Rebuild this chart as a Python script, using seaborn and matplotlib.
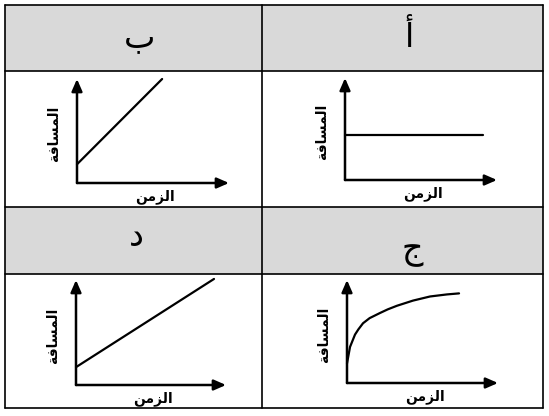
import matplotlib
matplotlib.use("Agg")
import matplotlib.pyplot as plt
import seaborn as sns
from matplotlib.patches import Rectangle

# ---------------------------------------------------------------------------
# data (arbitrary units 0..10 per panel)
# ---------------------------------------------------------------------------
letters = ["أ", "ب", "ج", "د"]
x_label = "الزمن"
y_label = "المسافة"

time_a = [0, 9.1]
dist_a = [4.4, 4.4]

time_b = [0, 5.6]
dist_b = [1.8, 10.0]

time_c = [0, 0.2, 0.53, 0.75, 1.06, 1.5, 2.19, 2.7, 3.31, 4.37, 5.5, 6.62, 7.42]
dist_c = [1.9, 3.5, 4.7, 5.2, 5.8, 6.3, 6.8, 7.15, 7.5, 8.0, 8.4, 8.6, 8.7]

time_d = [0, 9.2]
dist_d = [1.7, 10.1]

# ---------------------------------------------------------------------------
# tiny arabic shaper (matplotlib has no complex text layout)
# forms: isolated, final, initial, medial
# ---------------------------------------------------------------------------
FORMS = {
    "ا": ("\uFE8D", "\uFE8E", None, None),
    "ل": ("\uFEDD", "\uFEDE", "\uFEDF", "\uFEE0"),
    "ز": ("\uFEAF", "\uFEB0", None, None),
    "م": ("\uFEE1", "\uFEE2", "\uFEE3", "\uFEE4"),
    "ن": ("\uFEE5", "\uFEE6", "\uFEE7", "\uFEE8"),
    "س": ("\uFEB1", "\uFEB2", "\uFEB3", "\uFEB4"),
    "ف": ("\uFED1", "\uFED2", "\uFED3", "\uFED4"),
    "ة": ("\uFE93", "\uFE94", None, None),
}


def shape(word):
    out = []
    for i, ch in enumerate(word):
        iso, fin, ini, med = FORMS[ch]
        prev_joins = i > 0 and FORMS[word[i - 1]][2] is not None
        joins_next = i < len(word) - 1 and ini is not None
        if prev_joins and joins_next:
            out.append(med)
        elif prev_joins:
            out.append(fin)
        elif joins_next:
            out.append(ini)
        else:
            out.append(iso)
    return "".join(reversed(out))


sns.set_style("white")
plt.rcParams["font.family"] = ["DejaVu Sans"]

W, H = 549, 416
fig = plt.figure(figsize=(W / 100, H / 100), dpi=100)

# background axes in pixel coords for the table
bg = fig.add_axes([0, 0, 1, 1])
bg.set_xlim(0, W)
bg.set_ylim(H, 0)
bg.axis("off")

left, mid, right = 5, 262, 543
rows = [5, 71, 207, 274, 408]
gray = "#d9d9d9"
for top, bot in [(rows[0], rows[1]), (rows[2], rows[3])]:
    bg.add_patch(Rectangle((left, top), right - left, bot - top, color=gray, lw=0))
for y in rows:
    bg.plot([left, right], [y, y], color="black", lw=1.2)
for x in [left, mid, right]:
    bg.plot([x, x], [rows[0], rows[-1]], color="black", lw=1.2)

# header letters (right-to-left: right column first)
head_pos = [(409, 47), (140, 47), (412, 258), (136, 246)]
for letter, (hx, hy) in zip(letters, head_pos):
    bg.text(hx, hy, letter, fontsize=24, ha="center", va="baseline", color="black")

# panels: origin pixel and arrow tip pixel
panels = [
    ((345, 180), (497, 78), time_a, dist_a),
    ((77, 183), (229, 79), time_b, dist_b),
    ((347, 383), (498, 280), time_c, dist_c),
    ((76, 385), (226, 280), time_d, dist_d),
]

for (ox, oy), (tx, ty), t, d in panels:
    ax = fig.add_axes([ox / W, 1 - oy / H, (tx - ox) / W, (oy - ty) / H])
    ax.set_xlim(0, 10)
    ax.set_ylim(0, 10)
    ax.axis("off")
    sns.lineplot(x=t, y=d, ax=ax, color="black", lw=1.6, sort=False)
    for l in ax.lines:
        l.set_clip_on(False)
    arrow = dict(arrowstyle="-|>,head_length=0.8,head_width=0.35", color="black",
                 lw=1.8, shrinkA=0, shrinkB=0, mutation_scale=9)
    ax.annotate("", xy=(0, 1), xytext=(0, 0), xycoords="axes fraction", arrowprops=arrow)
    ax.annotate("", xy=(1, 0), xytext=(0, 0), xycoords="axes fraction", arrowprops=arrow)
    ax.annotate(shape(y_label), xy=(0, 0.5), xytext=(-23, -3), xycoords="axes fraction",
                textcoords="offset pixels", rotation=90, ha="center", va="center",
                fontsize=10, fontweight="bold", color="black")
    ax.annotate(shape(x_label), xy=(0.5, 0), xytext=(2, -14), xycoords="axes fraction",
                textcoords="offset pixels", ha="center", va="center",
                fontsize=10, fontweight="bold", color="black")

fig.savefig("out.png", dpi=100)
